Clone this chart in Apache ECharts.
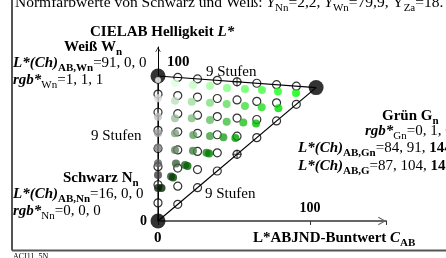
<!DOCTYPE html>
<html>
<head>
<meta charset="utf-8">
<script src="https://cdn.jsdelivr.net/npm/echarts@6.0.0/dist/echarts.min.js"></script>
<style>
html, body { margin: 0; padding: 0; background: #fff; }
#charts { width: 446px; height: 258px; }
</style>
</head>
<body>
<div id="charts"></div>
<script>
// 9 Stufen je Kante: Buntwert C und Helligkeitsanteil von W bzw. G (N=0, W=100)
const stepC = [0, 13, 26, 39, 52, 65, 78, 91, 104];
const stepLW = [0, 12.5, 25, 37.5, 50, 62.5, 75, 87.5, 100];
const stepLG = [0, 11.5, 23, 34.5, 46, 57.5, 69, 80.5, 92];

const pointN = [0, 0];
const pointW = [0, 100];
const pointG = [104, 92];

// gemessene Farben auf der Unbuntachse, Stufe s=1..8
const grayL = [22.8, 31.7, 39.8, 50.7, 60.7, 71.9, 84.6, 97.2];
// gemessene Farben, Zeile s=1..8, Spalte j=1..s
const dotC = [
    [2.3],
    [8.6, 9.9],
    [11.8, 17.8, 19.4],
    [11.2, 23.0, 31.9, 33.6],
    [11.2, 23.2, 34.2, 43.0, 50.9],
    [11.2, 22.2, 34.2, 45.2, 56.1, 64.5],
    [11.2, 22.2, 34.2, 45.2, 57.2, 68.2, 79.2],
    [11.2, 23.0, 34.2, 45.4, 57.2, 68.4, 78.9, 90.8]
];
const dotL = [
    [22.8],
    [30.7, 30.0],
    [39.7, 38.6, 37.9],
    [49.0, 48.5, 47.1, 46.6],
    [60.5, 59.3, 58.6, 57.7, 57.2],
    [70.8, 70.8, 69.7, 68.5, 67.9, 67.2],
    [83.0, 82.3, 81.6, 80.7, 79.3, 78.4, 77.7],
    [95.2, 93.8, 93.1, 91.7, 91.0, 90.3, 89.3, 88.3]
];

const xTickLabels = {0: '', 100: '100'};
const yTickLabels = {0: '0', 100: ''};

const FF = 'Liberation Serif';
const arrowPath = 'path://M0,8L4.5,0L9,8L8,8.6L4.5,2.2L1,8.6Z';
const crossPath = 'path://M4,0H5V4H9V5H5V9H4V5H0V4H4Z';

var chartDom = document.getElementById('charts');
var myChart = echarts.init(chartDom, null, {renderer: 'canvas'});

const rgb = (r, g, b) => 'rgb(' + Math.round(r * 255) + ',' + Math.round(g * 255) + ',' + Math.round(b * 255) + ')';

// Sollpositionen (offene Kreise)
let circles = [];
for (let i = 0; i <= 8; i++) {
    for (let j = 0; i + j <= 8; j++) {
        if ((i === 0 && j === 0) || (i === 8) || (j === 8)) continue;
        circles.push([stepC[j], stepLW[i] + stepLG[j]]);
    }
}
const crosses = [[stepC[4], stepLW[4] + stepLG[4]], [stepC[4], stepLG[4]]];

// Istpositionen (farbige Punkte)
let dots = [];
grayL.forEach((l, k) => {
    const s = k + 1;
    if (s < 8) dots.push({value: [0, l], itemStyle: {color: rgb(s / 8, s / 8, s / 8)}});
});
dotC.forEach((row, k) => {
    const s = k + 1;
    row.forEach((c, jj) => {
        const j = jj + 1;
        const i = s - j;
        dots.push({value: [c, dotL[k][jj]], itemStyle: {color: rgb(i / 8, s / 8, i / 8)}});
    });
});

const rich = {
    n: {fontFamily: FF, fontSize: 15, fill: '#000'},
    b: {fontFamily: FF, fontSize: 15, fontWeight: 'bold', fill: '#000'},
    bi: {fontFamily: FF, fontSize: 15, fontWeight: 'bold', fontStyle: 'italic', fill: '#000'},
    sb: {fontFamily: FF, fontSize: 11, fontWeight: 'bold', fill: '#000', padding: [10, 0, 0, 0]},
    s: {fontFamily: FF, fontSize: 11, fill: '#000', padding: [10, 0, 0, 0]},
    t: {fontFamily: FF, fontSize: 15.5, fill: '#000'},
    ti: {fontFamily: FF, fontSize: 15.5, fontStyle: 'italic', fill: '#000'},
    ts: {fontFamily: FF, fontSize: 11, fill: '#000', padding: [10, 0, 0, 0]}
};

const txt = (x, y, text) => ({
    type: 'text', x: x, y: y, z: 20,
    style: {text: text, rich: rich, fontFamily: FF, fontSize: 15, lineHeight: 18,
        verticalAlign: 'middle', align: 'left', fill: '#000'}
});

var option = {
    animation: false,
    backgroundColor: '#fff',
    grid: {left: 158, right: 60, top: 47, bottom: 37, outerBoundsMode: 'none'},
    xAxis: {
        type: 'value', min: 0, max: 150, interval: 100,
        axisLine: {show: true, lineStyle: {color: '#666', width: 2},
            symbol: ['none', arrowPath], symbolSize: [9, 8], symbolOffset: [0, -4]},
        axisTick: {show: true, length: 4, lineStyle: {color: '#333', width: 1}},
        axisLabel: {inside: true, margin: 6, color: '#000', fontFamily: FF, fontSize: 14, fontWeight: 'bold',
            formatter: v => xTickLabels[v] || ''},
        splitLine: {show: false}
    },
    yAxis: {
        type: 'value', min: 0, max: 120, interval: 100,
        axisLine: {show: true, lineStyle: {color: '#000', width: 1},
            symbol: ['none', arrowPath], symbolSize: [7, 5], symbolOffset: [0, -2.5]},
        axisTick: {show: false},
        axisLabel: {margin: 11, color: '#000', fontFamily: FF, fontSize: 14, fontWeight: 'bold',
            formatter: v => yTickLabels[v] || ''},
        splitLine: {show: false}
    },
    series: [
        {type: 'scatter', data: circles, symbol: 'circle', symbolSize: 8, z: 2, clip: false,
            itemStyle: {color: '#fff', borderColor: '#000', borderWidth: 1.2}, silent: true},
        {type: 'line', data: [pointW, pointG], symbol: 'none', z: 3, clip: false,
            lineStyle: {color: '#000', width: 1.2}, silent: true},
        {type: 'line', data: [pointN, pointG], symbol: 'none', z: 3, clip: false,
            lineStyle: {color: '#000', width: 1.2}, silent: true},
        {type: 'line', data: [pointN, pointW], symbol: 'none', z: 3, clip: false,
            lineStyle: {color: '#000', width: 1.2}, silent: true},
        {type: 'scatter', data: crosses, symbol: crossPath, symbolSize: 9, z: 3, clip: false,
            itemStyle: {color: '#000'}, silent: true},
        {type: 'scatter', data: dots, symbol: 'circle', symbolSize: 8, z: 4, clip: false, silent: true},
        {type: 'scatter', data: [pointN, pointW, pointG], symbol: 'circle', symbolSize: 15, z: 5, clip: false,
            itemStyle: {color: '#000'}, silent: true},
        {type: 'scatter', data: [[0, grayL[7]]], symbol: 'circle', symbolSize: 7, z: 6, clip: false,
            itemStyle: {color: '#fff', borderColor: '#000', borderWidth: 0.8}, silent: true}
    ],
    graphic: [
        {type: 'line', shape: {x1: 12, y1: 0, x2: 12, y2: 250.5}, style: {stroke: '#555', lineWidth: 2}, z: 20},
        {type: 'line', shape: {x1: 12, y1: 250.5, x2: 446, y2: 250.5}, style: {stroke: '#555', lineWidth: 2}, z: 20},
        txt(15, 3, '{t|Normfarbwerte von Schwarz und Weiß: }{ti|Y}{ts|Nn}{t|=2,2, }{ti|Y}{ts|Wn}{t|=79,9, Y}{ts|Za}{t|=18.}'),
        txt(90, 32.5, '{b|CIELAB Helligkeit }{bi|L*}'),
        txt(64, 47, '{b|Weiß W}{sb|n}'),
        txt(13, 63, '{bi|L*(Ch)}{sb|AB,Wn}{n|=91, 0, 0}'),
        txt(13, 80, '{bi|rgb*}{s|Wn}{n|=1, 1, 1}'),
        txt(167, 62, '{b|100}'),
        txt(91, 136.5, '{n|9 Stufen}'),
        txt(206, 72, '{n|9 Stufen}'),
        txt(205, 194, '{n|9 Stufen}'),
        txt(382, 116, '{b|Grün G}{sb|n}'),
        txt(365, 131, '{bi|rgb*}{s|Gn}{n|=0, 1, 0}'),
        txt(298, 148, '{bi|L*(Ch)}{sb|AB,Gn}{n|=84, 91, }{b|144}'),
        txt(298, 166, '{bi|L*(Ch)}{sb|AB,G}{n|=87, 104, }{b|141}'),
        txt(63, 178, '{b|Schwarz N}{sb|n}'),
        txt(13, 194, '{bi|L*(Ch)}{sb|AB,Nn}{n|=16, 0, 0}'),
        txt(13, 211, '{bi|rgb*}{s|Nn}{n|=0, 0, 0}'),
        txt(154, 238, '{b|0}'),
        txt(253, 238, '{b|L*ABJND-Buntwert }{bi|C}{sb|AB}'),
        {type: 'text', x: 13, y: 253, z: 20, style: {text: 'ACI11_5N', fontFamily: FF, fontSize: 8, fill: '#000', verticalAlign: 'top'}}
    ]
};

myChart.setOption(option);
</script>
</body>
</html>
